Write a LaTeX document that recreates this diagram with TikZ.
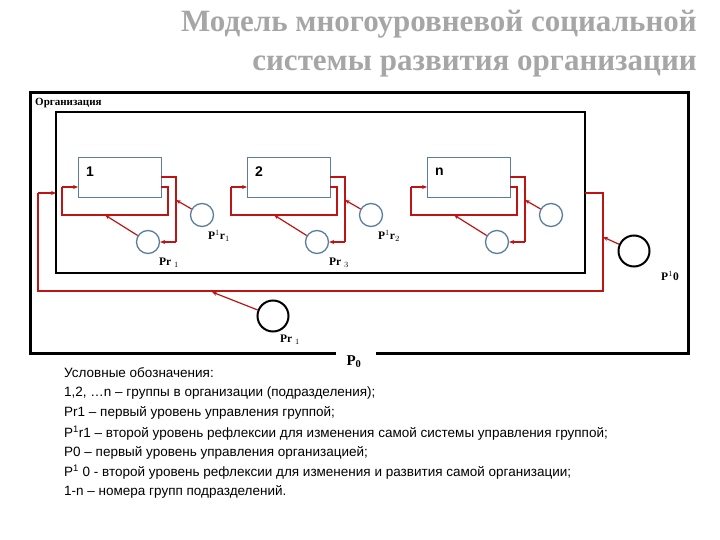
\documentclass[tikz,border=0pt]{standalone}
\usepackage{fontspec}
\setmainfont{Liberation Serif}
\newfontfamily\lsans{Liberation Sans}
\usetikzlibrary{arrows.meta}
\definecolor{rl}{RGB}{190,20,20}
\definecolor{gb}{RGB}{90,125,160}
\tikzset{
 fb/.style={draw=rl,line width=1.4pt},
 fa/.style={draw=rl,line width=1.2pt,-{Stealth[length=5pt,width=4pt]}},
 grp/.style={draw=gb,line width=1.3pt,minimum width=83pt,minimum height=40pt,inner sep=0},
 gcirc/.style={draw=gb,circle,line width=1.3pt,minimum size=23pt,inner sep=0},
 bcirc/.style={draw=black,circle,line width=2pt,minimum size=31pt,inner sep=0},
 lbl/.style={font=\bfseries\fontsize{11.5}{12}\selectfont,inner sep=0},
 glbl/.style={font=\lsans\bfseries\fontsize{14}{15}\selectfont,anchor=west,inner sep=0},
 leg/.style={font=\lsans\fontsize{13.5}{15}\selectfont,anchor=west,inner sep=0},
 ttl/.style={anchor=east,font=\bfseries\fontsize{31}{33}\selectfont,text=gray!70,inner sep=0}
}
\begin{document}
\begin{tikzpicture}[x=1pt,y=-1pt]
\useasboundingbox (0,0) rectangle (720,540);
% title
\node[ttl] (t1) at (697,24) {Модель многоуровневой социальной};
\node[ttl] (t2) at (697,66) {системы развития организации};
% outer box with gap
\draw[line width=3pt] (336,353) -- (30,353) -- (30,93) -- (688,93) -- (688,353) -- (376,353);
\node[anchor=west,lbl,font=\bfseries\fontsize{11}{12}\selectfont] (org) at (35,103) {Организация};
\draw[line width=2pt] (56,112) rectangle (585,273);
% groups
\foreach \dx/\nm/\t in {0/a/1,169/b/2,349/c/n}{
 \begin{scope}[xshift=\dx pt]
 \node[grp,anchor=north west] (g\nm) at (78,157) {};
 \node[glbl] (gl\nm) at (86,172) {\t};
 \node[gcirc] (pr\nm) at (148,242) {};
 \node[gcirc] (pq\nm) at (202,215) {};
 \coordinate (ea\nm) at (176,200);
 \coordinate (eb\nm) at (105,215);
 \draw[fb] (161,177) -- (176,177) -- (176,242);
 \draw[fa] (176,242) -- (pr\nm.east);
 \draw[fb] (161,187) -- (168,187) -- (168,215) -- (62,215) -- (62,187);
 \draw[fa] (62,187) -- (78,187);
 \draw[fa] (pq\nm) -- (ea\nm);
 \draw[fa] (pr\nm) -- (eb\nm);
 \end{scope}
}
\node[lbl] (l1) at (219,236) {P$^1$r$_1$};
\node[lbl] (l2) at (169,263) {Pr $_1$};
\node[lbl] (l3) at (389,236) {P$^1$r$_2$};
\node[lbl] (l4) at (339,263) {Pr $_3$};
% outer feedback
\draw[draw=rl,line width=1.2pt] (585,193) -- (603,193) -- (603,291) -- (38,291) -- (38,193);
\draw[fa] (38,193) -- (56,193);
\node[bcirc] (p10) at (634,251) {};
\coordinate (e10) at (603,237);
\draw[fa] (p10) -- (e10);
\node[lbl] (lp10) at (670,276) {P$^1$0};
\node[bcirc] (pr0) at (273,316) {};
\coordinate (e0) at (212,292);
\draw[fa] (pr0) -- (e0);
\node[lbl] (lpr0) at (290,340) {Pr $_1$};
\node[lbl,font=\bfseries\fontsize{15}{16}\selectfont] (p0) at (354,362) {P$_\mathbf{0}$};
% legend
\node[leg] (u0) at (64,373) {Условные обозначения:};
\node[leg] (u1) at (64,393) {1,2, …n – группы в организации (подразделения);};
\node[leg] (u2) at (64,413) {Pr1 – первый уровень управления группой;};
\node[leg] (u3) at (64,433) {P\textsuperscript{1}r1 – второй уровень рефлексии для изменения самой системы управления группой;};
\node[leg] (u4) at (64,453) {P0 – первый уровень управления организацией;};
\node[leg] (u5) at (64,472) {P\textsuperscript{1} 0 - второй уровень рефлексии для изменения и развития самой организации;};
\node[leg] (u6) at (64,492) {1-n – номера групп подразделений.};
\end{tikzpicture}
\end{document}
